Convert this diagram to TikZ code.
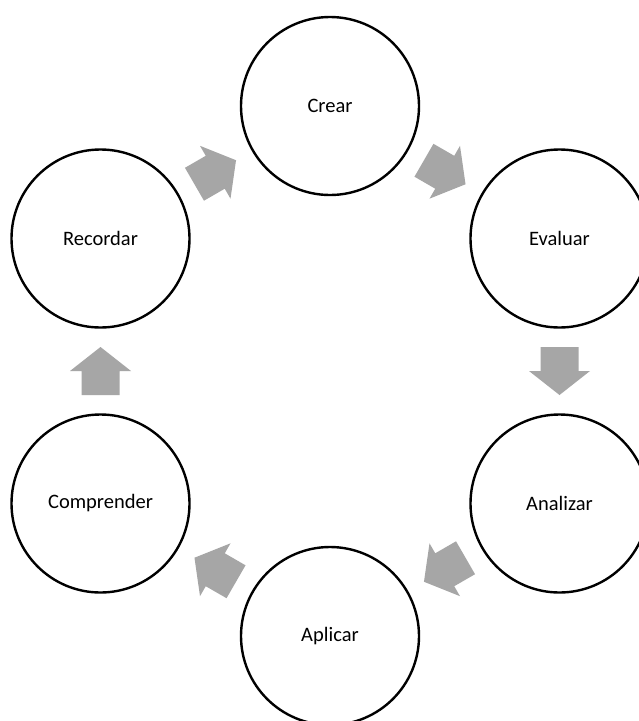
\documentclass[tikz,border=0pt]{standalone}
\usepackage{fontspec}
\setmainfont{Carlito}
\definecolor{arrowgray}{HTML}{A6A6A6}
\begin{document}
\begin{tikzpicture}[x=1pt,y=-1pt,
  stage/.style={circle, draw=black, line width=2.4pt, minimum size=178pt,
    inner sep=0pt, font=\fontsize{20.5}{24}\selectfont},
  blockarrow/.pic={\fill[arrowgray] (-24,-19) -- (0,-19) -- (0,-30.5) -- (24,0)
    -- (0,30.5) -- (0,19) -- (-24,19) -- cycle;},
  flow/.style={pos=0.5, sloped, allow upside down}
]
\useasboundingbox (0,0) rectangle (639,721);
\clip (0,0) rectangle (639,721);
\fill[white] (0,0) rectangle (639,721);

% six stages on a ring
\node[stage] (crear)      at (330,106)   {Crear};
\node[stage] (evaluar)    at (559.5,238.5) {Evaluar};
\node[stage] (analizar)   at (559.5,503.5) {Analizar};
\node[stage] (aplicar)    at (330,636)   {Aplicar};
\node[stage] (comprender) at (100.5,503.5) {Comprender};
\node[stage] (recordar)   at (100.5,238.5) {Recordar};

% block arrows between neighbouring stages
\path (crear) -- (evaluar) pic[flow] {blockarrow};
\path (evaluar) -- (analizar) pic[flow] {blockarrow};
\path (analizar) -- (aplicar) pic[flow] {blockarrow};
\path (aplicar) -- (comprender) pic[flow] {blockarrow};
\path (comprender) -- (recordar) pic[flow] {blockarrow};
\path (recordar) -- (crear) pic[flow] {blockarrow};
\end{tikzpicture}
\end{document}
